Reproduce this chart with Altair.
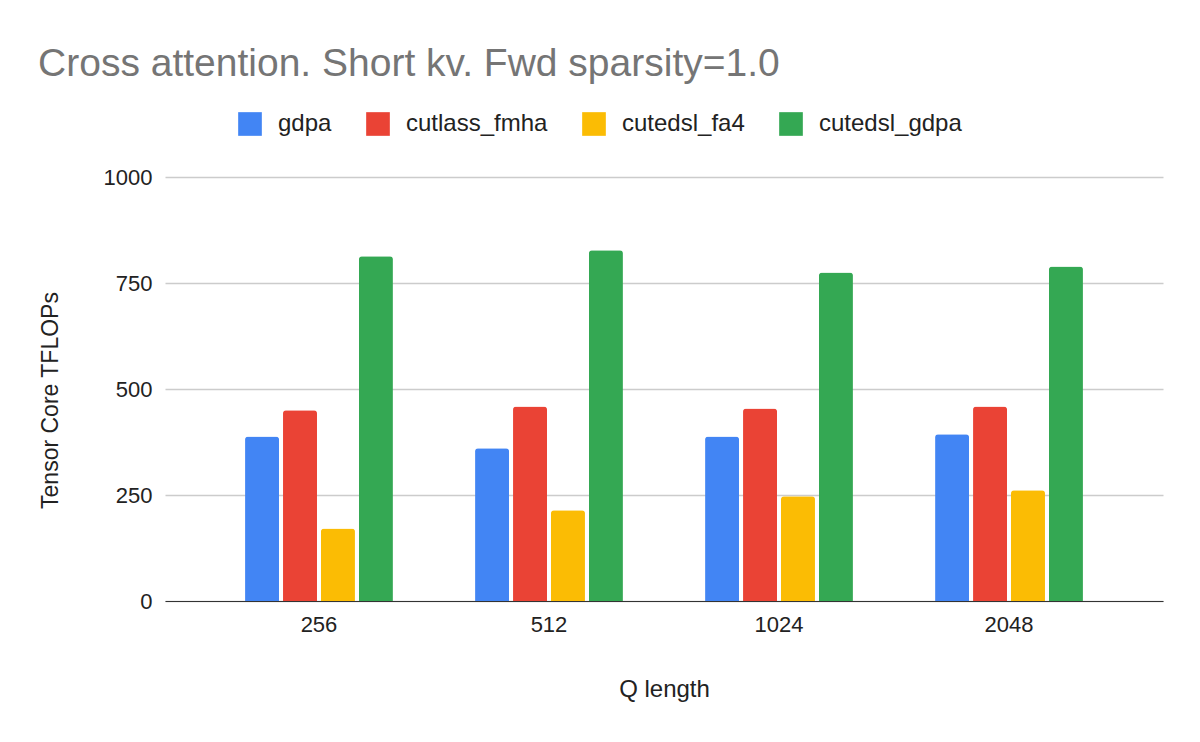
import pandas as pd
import altair as alt

# --- values ---
q_lengths = ["256", "512", "1024", "2048"]
series = ["gdpa", "cutlass_fmha", "cutedsl_fa4", "cutedsl_gdpa"]
colors = ["#4285F4", "#EA4335", "#FBBC04", "#34A853"]

gdpa = [388, 360, 388, 393]
cutlass_fmha = [450, 459, 454, 459]
cutedsl_fa4 = [171, 214, 247, 261]
cutedsl_gdpa = [813, 827, 775, 789]

values = {
    "gdpa": gdpa,
    "cutlass_fmha": cutlass_fmha,
    "cutedsl_fa4": cutedsl_fa4,
    "cutedsl_gdpa": cutedsl_gdpa,
}

rows = []
for name in series:
    for q, v in zip(q_lengths, values[name]):
        rows.append({"q": q, "series": name, "tflops": v})
df = pd.DataFrame(rows)

FONT = "Liberation Sans"
TEXT = "#222222"

chart = alt.Chart(df).mark_bar(
    cornerRadiusTopLeft=3, cornerRadiusTopRight=3
).encode(
    x=alt.X(
        "q:N",
        sort=q_lengths,
        title="Q length",
        scale=alt.Scale(paddingInner=0.357, paddingOuter=0.348),
        axis=alt.Axis(
            labelAngle=0, ticks=False, labelPadding=13, titlePadding=42,
            domainColor="#333333", domainWidth=1.2, labelFontSize=22,
            titleFontSize=24, labelColor=TEXT, titleColor=TEXT,
            titleFontWeight="normal", labelFont=FONT, titleFont=FONT,
        ),
    ),
    xOffset=alt.XOffset(
        "series:N", sort=series,
        scale=alt.Scale(paddingInner=0.105, paddingOuter=0),
    ),
    y=alt.Y(
        "tflops:Q",
        title="Tensor Core TFLOPs",
        scale=alt.Scale(domain=[0, 1000], nice=False),
        axis=alt.Axis(
            values=[0, 250, 500, 750, 1000], format="d", ticks=False,
            domain=False, gridColor="#CCCCCC", gridWidth=1.5,
            labelPadding=13, titlePadding=41, titleY=223, labelFontSize=22,
            titleFontSize=23, labelColor=TEXT, titleColor=TEXT,
            titleFontWeight="normal", labelFont=FONT, titleFont=FONT,
        ),
    ),
    color=alt.Color(
        "series:N",
        sort=series,
        scale=alt.Scale(domain=series, range=colors),
        legend=alt.Legend(
            title=None, orient="none", direction="horizontal",
            legendX=73, legendY=-65, symbolType="square", symbolSize=560,
            symbolStrokeWidth=0, labelFontSize=24, labelFont=FONT,
            labelColor=TEXT, labelOffset=16, columnPadding=34,
        ),
    ),
).properties(
    width=998,
    height=424,
    autosize=alt.AutoSizeParams(type="none"),
    padding={"left": 157, "top": 169, "right": 20, "bottom": 120},
    title=alt.TitleParams(
        "Cross attention. Short kv. Fwd sparsity=1.0",
        anchor="start", dx=-1, offset=28, fontSize=39,
        font=FONT, fontWeight="normal", color="#757575",
    ),
).configure_view(stroke=None)

chart.save("out.html", embed_options={"renderer": "svg", "actions": False})
